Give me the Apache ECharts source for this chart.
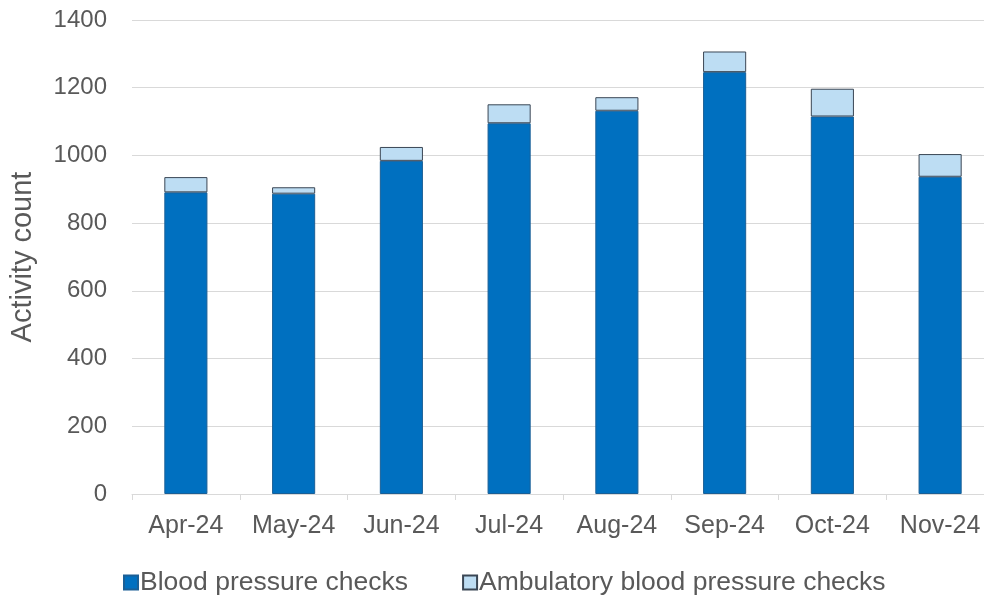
<!DOCTYPE html>
<html>
<head>
<meta charset="utf-8">
<title>Blood pressure checks by month</title>
<script src="https://cdn.jsdelivr.net/npm/echarts@6/dist/echarts.min.js"></script>
<style>
  html, body { margin: 0; padding: 0; background: #ffffff; overflow: hidden; width: 984px; height: 596px; }
  /* canvas is a little wider than the window so the last column runs off the right edge */
  #chart { width: 994px; height: 596px; }
</style>
</head>
<body>
<div id="chart"></div>
<script>
// Monthly activity
const months = ['Apr-24', 'May-24', 'Jun-24', 'Jul-24', 'Aug-24', 'Sep-24', 'Oct-24', 'Nov-24'];
const bloodPressureChecks = [891, 887, 984, 1095, 1132, 1246, 1115, 937];
const ambulatoryChecks = [45, 19, 41, 56, 40, 61, 82, 67];
const yTicks = { min: 0, max: 1400, interval: 200 };

const textGrey = '#595959';
const fontFamily = '"Liberation Sans", Arial, sans-serif';

const chart = echarts.init(document.getElementById('chart'), null, { renderer: 'canvas' });

chart.setOption({
  animation: false,
  backgroundColor: '#ffffff',
  textStyle: { fontFamily: fontFamily, color: textGrey },
  grid: { left: 130, right: 0, top: 20, height: 474, containLabel: false },
  legend: {
    left: 118,
    top: 564,
    itemWidth: 14,
    itemHeight: 14,
    itemGap: 54,
    icon: 'rect',
    textStyle: { fontSize: 26.5, color: textGrey, fontFamily: fontFamily, padding: [0, 0, 0, -3] },
    data: ['Blood pressure checks', 'Ambulatory blood pressure checks']
  },
  xAxis: {
    type: 'category',
    data: months,
    axisLine: { show: true, lineStyle: { color: '#d9d9d9', width: 1 } },
    axisTick: { show: true, length: 6, alignWithLabel: false, interval: 0, lineStyle: { color: '#d9d9d9' } },
    axisLabel: { fontSize: 25, color: textGrey, margin: 20, interval: 0, hideOverlap: false, fontFamily: fontFamily }
  },
  yAxis: {
    type: 'value',
    min: yTicks.min,
    max: yTicks.max,
    interval: yTicks.interval,
    name: 'Activity count',
    nameLocation: 'middle',
    nameRotate: 90,
    nameGap: 95,
    nameTextStyle: { fontSize: 29, color: textGrey, fontFamily: fontFamily },
    axisLine: { show: false },
    axisTick: { show: false },
    axisLabel: { fontSize: 24, color: textGrey, margin: 25, fontFamily: fontFamily, formatter: (v) => String(v) },
    splitLine: { show: true, lineStyle: { color: '#d9d9d9', width: 1 } }
  },
  series: [
    {
      name: 'Blood pressure checks',
      type: 'bar',
      stack: 'activity',
      barWidth: '40%',
      data: bloodPressureChecks,
      itemStyle: { color: '#0070C0', borderColor: '#1a5f96', borderWidth: 1 }
    },
    {
      name: 'Ambulatory blood pressure checks',
      type: 'bar',
      stack: 'activity',
      barWidth: '40%',
      data: ambulatoryChecks,
      itemStyle: { color: '#BDDDF3', borderColor: '#3a4654', borderWidth: 1 }
    }
  ]
});
</script>
</body>
</html>
